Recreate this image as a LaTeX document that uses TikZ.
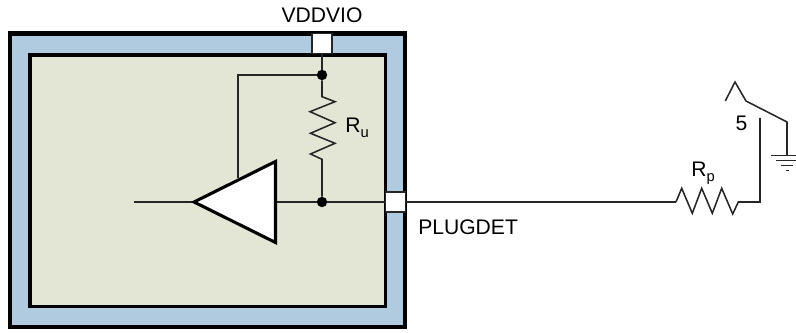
\documentclass[tikz,border=0pt]{standalone}
\usepackage{fontspec}
\setmainfont{Liberation Sans}
\usepackage{xcolor}
\definecolor{padblue}{HTML}{B0CBE0}
\definecolor{coregray}{HTML}{E3E5D5}
\newcommand{\lowtext}[1]{\raisebox{-0.22em}{\fontsize{10.5}{12}\selectfont #1}}
\tikzset{
  wire/.style={line width=1.1pt,black!85},
  pad/.style={draw=black!85,line width=0.8pt,fill=white,inner sep=0pt,minimum width=14.2pt,minimum height=14.2pt},
  junction/.style={circle,fill=black,inner sep=0pt,minimum size=7.4pt},
  label/.style={inner sep=0pt,font=\fontsize{15}{17}\selectfont}
}
\begin{document}
\begin{tikzpicture}[x=0.025cm,y=-0.025cm]
\useasboundingbox (0,0) rectangle (796,333);

% Outer package and inner core
\draw[line width=3pt,fill=padblue] (10,33.5) rectangle (405,327);
\draw[line width=2.2pt,fill=coregray] (30,55) rectangle (385.5,306.5);

% Named points of the circuit
\coordinate (apex) at (194,202);
\coordinate (ampin) at (134,202);
\coordinate (ampout) at (275.5,202);
\coordinate (fbtop) at (238,75);
\coordinate (fbamp) at (238,178);
\coordinate (rptop) at (760,118);
\coordinate (rpcorner) at (760,202);
\coordinate (rpleft) at (676,202);
\coordinate (gndtop) at (787,122);
\coordinate (gnd) at (787,155);

% Pads
\node[pad] (vddpad) at (322,43.5) {};
\node[pad] (detpad) at (395.5,202) {};

% Junctions
\node[junction] (topdot) at (322,75) {};
\node[junction] (botdot) at (322,202) {};

% Wires
\draw[wire] (ampin) -- (apex);
\draw[wire] (ampout) -- (botdot);
\draw[wire] (botdot) -- (detpad);
\draw[wire] (vddpad) -- (topdot);
\draw[wire] (fbamp) -- (fbtop) -- (topdot);
\draw[wire] (detpad) -- (rpleft);

% Amplifier
\draw[line width=2.2pt,fill=white,line join=miter] (apex) -- (275.5,161.5) -- (275.5,242.5) -- cycle;

% Resistor Ru
\draw[wire] (topdot) -- (322,96.7) -- (335,101.7) -- (310,111.7) -- (335,122.7) -- (310.5,133.3) -- (335,143.3) -- (310.5,154) -- (322,159.3) -- (botdot);
\node[label,anchor=base west] (rulabel) at (345,133) {R\lowtext{u}};

% Resistor Rp and switch side
\draw[wire] (rpleft) -- (681.7,188.3) -- (692.3,213.3) -- (701.7,188.3) -- (712.3,213.3) -- (721.7,188.3) -- (732.7,214) -- (738.3,202) -- (rpcorner) -- (rptop);
\node[label,anchor=base west] (rplabel) at (691,177) {R\lowtext{p}};
\draw[wire] (725.3,101) -- (735,82) -- (746,101) -- (gndtop) -- (gnd);
\node[label] (swlabel) at (741.5,123) {5};

% Ground
\draw[wire] (771,155.7) -- (796,155.7);
\draw[wire] (776,160.7) -- (796,160.7);
\draw[wire] (781,165.7) -- (793,165.7);
\draw[wire] (785.5,170.7) -- (789,170.7);

% Pin labels
\node[label] (vddlabel) at (322,15) {VDDVIO};
\node[label,anchor=base west] (detlabel) at (418,235) {PLUGDET};
\end{tikzpicture}
\end{document}
